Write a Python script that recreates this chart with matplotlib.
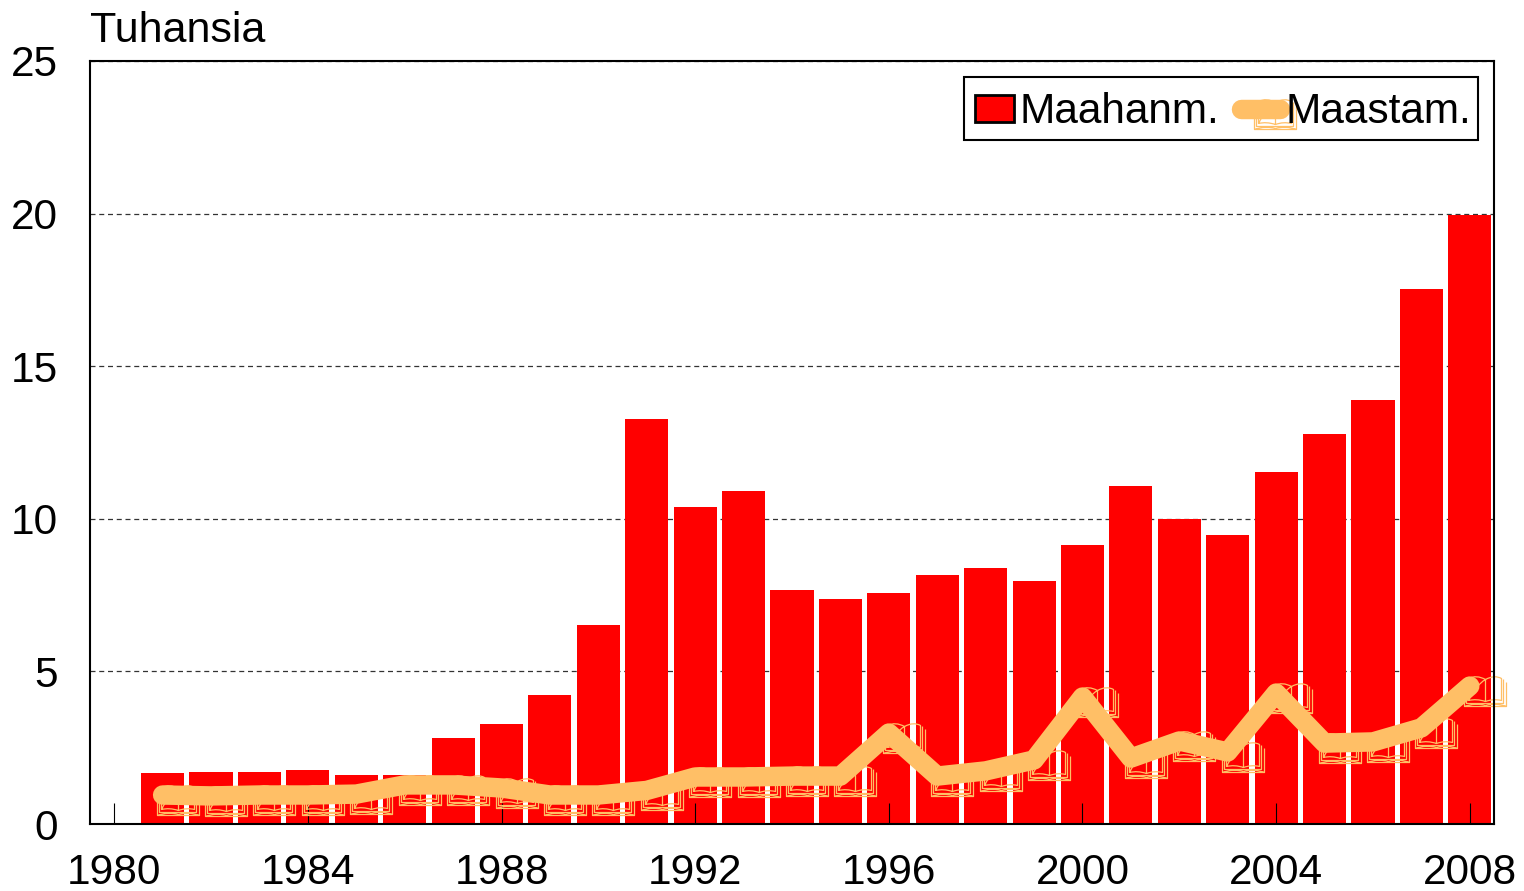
import numpy as np
import matplotlib
matplotlib.use('Agg')
import matplotlib.pyplot as plt
from matplotlib.legend_handler import HandlerTuple
from matplotlib.patches import Patch, Rectangle
from matplotlib.path import Path

plt.rcParams['font.family'] = ['Liberation Sans', 'DejaVu Sans']

## the data
years = list(range(1981, 2009))
maahanm = [1.67, 1.70, 1.70, 1.77, 1.60, 1.60, 2.82, 3.28, 4.23, 6.52,
           13.27, 10.39, 10.91, 7.67, 7.37, 7.57, 8.16, 8.39, 7.96, 9.14,
           11.07, 9.99, 9.47, 11.53, 12.78, 13.89, 17.53, 19.95]
maastam = [0.95, 0.92, 0.95, 0.95, 0.98, 1.28, 1.28, 1.18, 0.95, 0.95,
           1.10, 1.54, 1.54, 1.57, 1.57, 2.98, 1.57, 1.74, 2.10, 4.16,
           2.16, 2.72, 2.36, 4.29, 2.65, 2.69, 3.15, 4.52]
xticks = [1980, 1984, 1988, 1992, 1996, 2000, 2004, 2008]
yticks = [0, 5, 10, 15, 20, 25]

RED = '#ff0000'
ORANGE = '#ffbf66'

## open book marker, drawn around the point with the offset the original has
M, L, C = Path.MOVETO, Path.LINETO, Path.CURVE3
dx, dy = 15, -5
book = [
    # left page
    ((-17, -9), M), ((-17, 13), L), ((-9, 17), C), ((0, 12), C),
    ((-9, 7), C), ((-17, -9), C),
    ((-17, -9), M), ((-9, -7), C), ((0, -10), C),
    # right page
    ((0, 12), M), ((9, 17), C), ((16, 13), C), ((16, -9), L),
    ((8, -7), C), ((0, -10), C), ((0, 12), L),
    # covers
    ((-21, 9), M), ((-21, -15), L), ((21, -15), L), ((21, 9), L),
    ((18, 12), M), ((18, -12), L), ((-19, -12), L), ((-19, 9), L),
    ((-21, -15), M), ((-10, -11), C), ((0, -14), C), ((10, -11), C), ((21, -15), C),
]
book_verts = [(x + dx, y + dy) for (x, y), c in book]
book_codes = [c for (x, y), c in book]
book_path = Path(book_verts, book_codes)
book_ms = 2 * np.abs(book_verts).max() * 72 / 100

fig = plt.figure(figsize=(15.24, 8.91), dpi=100)
ax = fig.add_axes([90 / 1524, 1 - 824 / 891, 1404 / 1524, 763 / 891])

## the bars
bars = ax.bar(years, maahanm, 0.89, color=RED, zorder=1)

## markers under the thick line
books, = ax.plot(years, maastam, ls='none', marker=book_path, ms=book_ms,
                 mfc='none', mec=ORANGE, mew=0.9, clip_on=False, zorder=3)
line, = ax.plot(years, maastam, color=ORANGE, lw=14, solid_capstyle='round',
                solid_joinstyle='round', zorder=4)

# axes and labels
ax.set_xlim(1979.5, 2008.5)
ax.set_ylim(0, 25)
ax.set_xticks(xticks)
ax.set_yticks(yticks)
ax.tick_params(axis='x', direction='in', length=15, width=0.8, pad=21, labelsize=30.5)
ax.tick_params(axis='y', length=0, pad=23, labelsize=30.5)
ax.set_axisbelow(True)
ax.xaxis.set_zorder(2.5)
ax.grid(axis='y', color='#333333', lw=0.9, ls=(0, (4, 3)))
for s in ax.spines.values():
    s.set_linewidth(1.5)
    s.set_zorder(5)
ax.set_title('Tuhansia', loc='left', fontsize=31, pad=13.5)

## add a legend, its frame is a separate box so the entries can sit off centre
ax.add_patch(Rectangle((964 / 1524, 1 - 140 / 891), 514 / 1524, 63 / 891,
                       transform=fig.transFigure, fc='white', ec='black',
                       lw=1.5, clip_on=False, zorder=5.5))
red_patch = Patch(facecolor=RED, edgecolor='black', lw=2)
ax.legend([red_patch, (books, line)], ['Maahanm.', 'Maastam.'],
          handler_map={tuple: HandlerTuple(ndivide=1, pad=0)},
          ncol=2, loc='upper right', bbox_to_anchor=(1483 / 1524, 1 - 81 / 891),
          bbox_transform=fig.transFigure, fontsize=30.5, frameon=False,
          handlelength=0.92, handleheight=0.62,
          handletextpad=0.14, columnspacing=0.5, borderpad=0.27, borderaxespad=0)
ax.get_legend().set_zorder(6)

fig.savefig('out.png', dpi=100)
